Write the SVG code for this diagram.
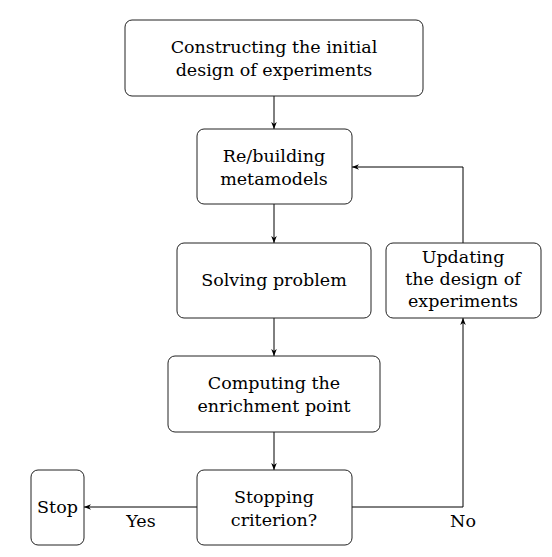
<svg xmlns="http://www.w3.org/2000/svg" width="552" height="557" viewBox="0 0 552 557">
<defs>
<marker id="ah" viewBox="0 0 10 10" refX="10" refY="5" markerWidth="7" markerHeight="7" markerUnits="userSpaceOnUse" orient="auto">
<path d="M0,1 L10,5 L0,9 L3,5 Z" fill="#000"/>
</marker>
</defs>
<style>
.box{fill:#fff;stroke:#222;stroke-width:1}
.t{font-family:'DejaVu Serif',serif;font-size:17.5px;fill:#000;text-anchor:middle}
.c{fill:none;stroke:#000;stroke-width:1;marker-end:url(#ah)}
</style>
<rect width="552" height="557" fill="#fff"/>
<g id="connectors">
<path class="c" d="M274,96 V129"/>
<path class="c" d="M274,204 V243"/>
<path class="c" d="M274,318 V356"/>
<path class="c" d="M274,432 V470"/>
<path class="c" d="M197,507 H84"/>
<path class="c" d="M352,507 H463 V318"/>
<path class="c" d="M463,243 V167 H352"/>
<text class="t" x="141" y="527">Yes</text>
<text class="t" x="463" y="527">No</text>
</g>
<g id="n1"><rect class="box" x="125" y="20" width="298" height="76" rx="7"/>
<text class="t" x="274" y="53">Constructing the initial</text>
<text class="t" x="274" y="76">design of experiments</text></g>
<g id="n2"><rect class="box" x="197" y="129" width="155" height="75" rx="7"/>
<text class="t" x="274" y="162">Re/building</text>
<text class="t" x="274" y="185">metamodels</text></g>
<g id="n3"><rect class="box" x="177" y="243" width="194" height="75" rx="7"/>
<text class="t" x="274" y="286">Solving problem</text></g>
<g id="n4"><rect class="box" x="386" y="243" width="155" height="75" rx="7"/>
<text class="t" x="463" y="263">Updating</text>
<text class="t" x="463" y="285">the design of</text>
<text class="t" x="463" y="307">experiments</text></g>
<g id="n5"><rect class="box" x="168" y="356" width="212" height="76" rx="7"/>
<text class="t" x="274" y="389">Computing the</text>
<text class="t" x="274" y="412">enrichment point</text></g>
<g id="n6"><rect class="box" x="197" y="470" width="155" height="75" rx="7"/>
<text class="t" x="274" y="503">Stopping</text>
<text class="t" x="274" y="526">criterion?</text></g>
<g id="n7"><rect class="box" x="31" y="470" width="53" height="75" rx="7"/>
<text class="t" x="57.5" y="513">Stop</text></g>
</svg>
